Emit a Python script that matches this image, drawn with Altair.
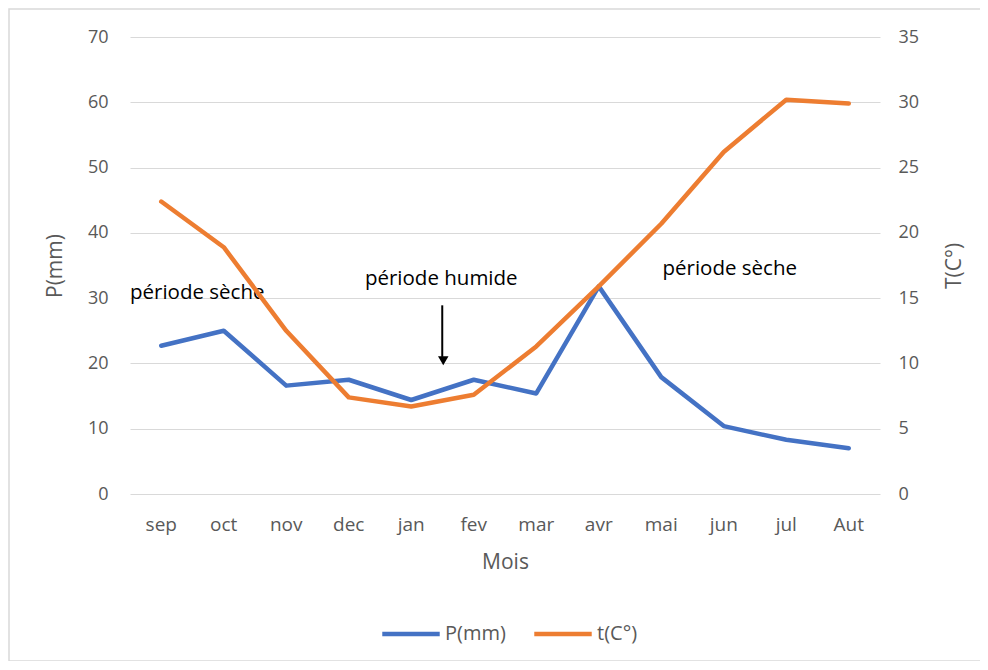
import altair as alt
import pandas as pd

months = ["sep", "oct", "nov", "dec", "jan", "fev", "mar", "avr", "mai", "jun", "jul", "Aut"]
precip = [22.7, 25.0, 16.6, 17.5, 14.4, 17.5, 15.4, 31.8, 17.9, 10.4, 8.3, 7.0]
temp = [22.4, 18.9, 12.5, 7.4, 6.7, 7.6, 11.3, 15.9, 20.7, 26.2, 30.2, 29.9]

ann_text = ["période sèche", "période humide", "période sèche"]
ann_month = ["sep", "jan", "jun"]
ann_y = [30.8, 32.9, 34.5]
ann_dx = [36, 30, 6]

arrow_month = ["jan"]
arrow_top = [28.9]
arrow_bottom = [21.0]
arrow_tip = [20.4]

FONT = "Open Sans"
GRAY = "#595959"
BLUE = "#4472C4"
ORANGE = "#ED7D31"

df = pd.DataFrame({"Mois": months, "P": precip, "T": temp})
ann = pd.DataFrame({"Mois": ann_month, "P": ann_y, "txt": ann_text, "dx": ann_dx})
arr = pd.DataFrame({"Mois": arrow_month, "P": arrow_top, "P2": arrow_bottom, "tip": arrow_tip})

xscale = alt.Scale(paddingInner=0, paddingOuter=0)
xaxis = alt.Axis(title="Mois", labelAngle=0, labelPadding=21, titlePadding=17,
                 domain=False, ticks=False, grid=False, labelFontSize=19)
colscale = alt.Scale(domain=["P(mm)", "t(C°)"], range=[BLUE, ORANGE])
yscaleP = alt.Scale(domain=[0, 70], nice=False, zero=True)
yaxisP = alt.Axis(title="P(mm)", values=list(range(0, 71, 10)), labelPadding=22,
                  titlePadding=22, domain=False, ticks=False, grid=True,
                  gridColor="#d9d9d9", gridWidth=1.2)


def X():
    return alt.X("Mois:N", sort=months, scale=xscale, axis=xaxis)


p_line = alt.Chart(df).mark_line(strokeWidth=4.5, strokeCap="round", strokeJoin="round").encode(
    x=X(),
    y=alt.Y("P:Q", scale=yscaleP, axis=yaxisP),
    color=alt.Color("s:N", scale=colscale,
                    legend=alt.Legend(title=None, orient="none", legendX=250, legendY=566,
                                      direction="horizontal", symbolType="stroke",
                                      symbolSize=3300, symbolStrokeWidth=4.5,
                                      labelFontSize=20, labelColor=GRAY, labelFont=FONT,
                                      columnPadding=19, labelOffset=3)),
).transform_calculate(s="'P(mm)'")

text_layers = []
for i in range(len(ann_text)):
    sub = ann.iloc[[i]]
    text_layers.append(
        alt.Chart(sub).mark_text(font=FONT, fontSize=20.5, color="black", align="center",
                                 baseline="middle", dx=int(ann_dx[i])).encode(
            x=X(), y=alt.Y("P:Q", scale=yscaleP, axis=yaxisP),
            text="txt:N")
    )

arrow_rule = alt.Chart(arr).mark_rule(color="black", strokeWidth=2, xOffset=31).encode(
    x=X(), y=alt.Y("P:Q", scale=yscaleP, axis=yaxisP), y2="P2:Q")
arrow_head = alt.Chart(arr).mark_point(shape="triangle-down", filled=True, color="black",
                                       opacity=1, size=110, xOffset=32).encode(
    x=X(), y=alt.Y("tip:Q", scale=yscaleP, axis=yaxisP))

left = alt.layer(p_line, *text_layers, arrow_rule, arrow_head)

t_line = alt.Chart(df).mark_line(strokeWidth=4.5, strokeCap="round", strokeJoin="round").encode(
    x=X(),
    y=alt.Y("T:Q", scale=alt.Scale(domain=[0, 35], nice=False),
            axis=alt.Axis(title="T(C°)", orient="right", values=list(range(0, 36, 5)),
                          labelPadding=18, titlePadding=46, titleAngle=-90, domain=False,
                          ticks=False, grid=False)),
    color=alt.Color("s:N", scale=colscale),
).transform_calculate(s="'t(C°)'")

border = alt.Chart(pd.DataFrame({"a": [0]})).mark_rect(
    fill=None, stroke="#d9d9d9", strokeWidth=1.5).encode(
    x=alt.value(-121), x2=alt.value(855), y=alt.value(-28), y2=alt.value(624))

chart = alt.layer(left, t_line, border).resolve_scale(y="independent").properties(
    width=750, height=457, autosize=alt.AutoSizeParams(type="none"),
    padding={"left": 122, "top": 29, "right": 100, "bottom": 167}
).configure_view(stroke=None).configure_axis(
    labelFont=FONT, titleFont=FONT, labelFontSize=18, titleFontSize=21,
    labelColor=GRAY, titleColor=GRAY, titleFontWeight="normal"
)

chart.save("out.html", embed_options={"renderer": "svg", "actions": False})
